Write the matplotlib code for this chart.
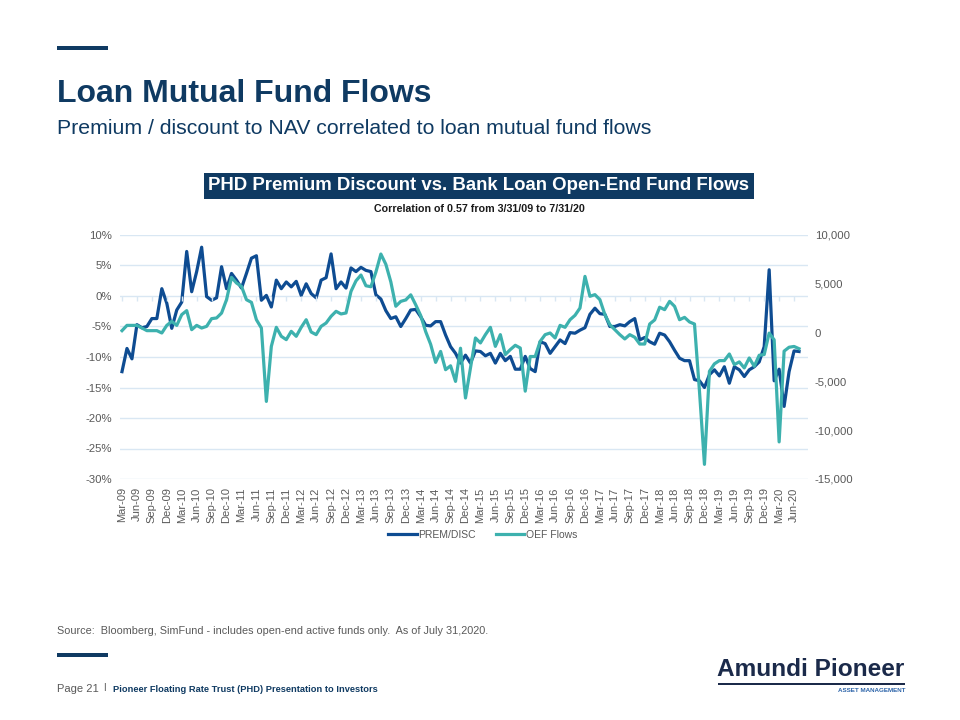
import numpy as np
import pandas as pd
import matplotlib
matplotlib.use('Agg')
from matplotlib import pyplot as plt
from matplotlib.ticker import FuncFormatter, MultipleLocator

plt.rcParams['font.family'] = ['Liberation Sans', 'DejaVu Sans']
plt.rcParams['axes.unicode_minus'] = False

# monthly data, Mar-09 .. Jul-20
months = pd.date_range('2009-03-31', '2020-07-31', freq='ME')

# PHD premium / discount to NAV (%)
prem_disc = [
    -12.4, -8.6, -10.3, -4.7, -5.2, -5.0, -3.7, -3.7, 1.2, -1.2,
    -5.3, -2.3, -1.0, 7.3, 0.7, 4.0, 8.0, -0.1, -0.7, -0.3,
    4.8, 1.2, 3.7, 2.6, 1.3, 3.7, 6.2, 6.6, -0.7, 0.1,
    -1.8, 2.6, 1.2, 2.3, 1.5, 2.4, 0.1, 2.0, 0.4, -0.3,
    2.6, 3.0, 6.9, 1.2, 2.3, 1.3, 4.6, 4.0, 4.7, 4.2,
    4.0, 0.2, -0.5, -2.4, -3.7, -3.4, -5.0, -3.7, -2.3, -2.2,
    -3.4, -4.8, -4.9, -4.2, -4.2, -6.4, -8.3, -9.4, -11.0, -9.7,
    -11.0, -9.0, -9.1, -9.8, -9.4, -11.0, -9.4, -10.6, -9.9, -12.0,
    -12.0, -9.9, -11.9, -12.4, -7.5, -7.8, -9.4, -8.3, -7.2, -7.8,
    -6.0, -6.1, -5.6, -5.2, -3.0, -2.0, -2.9, -3.0, -5.0, -5.0,
    -4.7, -4.9, -4.2, -3.7, -7.2, -6.8, -7.5, -7.9, -6.1, -6.4,
    -7.5, -8.9, -10.2, -10.6, -10.6, -13.7, -13.9, -15.0, -12.9, -12.1,
    -13.1, -11.6, -14.3, -11.6, -12.1, -13.2, -12.1, -11.6, -10.8, -8.3,
    4.3, -13.9, -12.0, -18.1, -12.4, -9.0, -9.1,
]

# bank loan open-end fund flows ($mm)
oef_flows = [
    200, 740, 740, 740, 470, 200, 200, 200, -40, 740,
    1150, 740, 1840, 2250, 300, 740, 470, 640, 1430, 1500,
    2000, 3370, 5660, 5080, 4740, 3370, 3100, 1320, 470, -7050,
    -1410, 540, -380, -720, 130, -380, 540, 1320, 60, -210,
    640, 980, 1670, 2180, 1910, 2010, 4220, 5300, 5900, 4800,
    4700, 6200, 8050, 7000, 5200, 2700, 3200, 3350, 3870, 2850,
    1750, 100, -1200, -3050, -1930, -3800, -3400, -5000, -1600, -6700,
    -3620, -550, -1060, -210, 540, -1410, -210, -2250, -1740, -1300,
    -1580, -6000, -2450, -2450, -900, -210, -40, -550, 740, 540,
    1320, 1770, 2520, 5760, 3720, 3890, 3370, 1840, 810, 300,
    -210, -650, -210, -480, -1170, -1170, 880, 1300, 2600, 2350,
    3200, 2690, 1320, 1560, 1090, 880, -6000, -13500, -3970, -3200,
    -2870, -2870, -2190, -3280, -3000, -3620, -2600, -3450, -2320, -2250,
    -50, -740, -11200, -1900, -1500, -1420, -1650,
]

navy = '#0F3A62'
blue_line = '#0E4C92'
teal_line = '#3DB1AE'
grid_col = '#D9E7F3'
label_col = '#595959'

fig = plt.figure(figsize=(9.6, 7.2), dpi=100)

# header
fig.add_artist(plt.Rectangle((57 / 960, 1 - 50 / 720), 51 / 960, 4 / 720,
                             transform=fig.transFigure, color=navy, lw=0))
fig.text(57 / 960, 1 - 94 / 720, 'Loan Mutual Fund Flows', fontsize=23,
         fontweight='bold', color=navy, va='center', ha='left')
fig.text(57 / 960, 1 - 128 / 720,
         'Premium / discount to NAV correlated to loan mutual fund flows',
         fontsize=15.3, color=navy, va='center', ha='left')

# chart titles
fig.text(479 / 960, 1 - 186 / 720,
         'PHD Premium Discount vs. Bank Loan Open-End Fund Flows',
         fontsize=13.4, fontweight='bold', color='white', ha='center', va='center',
         bbox=dict(facecolor=navy, edgecolor='none', pad=3.5))
fig.text(479 / 960, 1 - 209 / 720, 'Correlation of 0.57 from 3/31/09 to 7/31/20',
         fontsize=7.7, fontweight='bold', color='#1A1A1A', ha='center', va='center')

# main chart
x = np.arange(len(months))
ax = fig.add_axes([120 / 960, 1 - 479 / 720, 688 / 960, 244 / 720])
ax2 = ax.twinx()

l1, = ax.plot(x, prem_disc, color=blue_line, lw=2.3, label='PREM/DISC',
              solid_joinstyle='round')
l2, = ax2.plot(x, oef_flows, color=teal_line, lw=2.3, label='OEF Flows',
               solid_joinstyle='round')

ax.set_xlim(-0.4, len(months) + 0.8)
ax.set_ylim(-30, 10)
ax2.set_ylim(-15000, 10000)
ax.yaxis.set_major_locator(MultipleLocator(5))
ax2.yaxis.set_major_locator(MultipleLocator(5000))
ax.yaxis.set_major_formatter(FuncFormatter(lambda v, p: f'{v:.0f}%'))
ax2.yaxis.set_major_formatter(FuncFormatter(lambda v, p: f'{v:,.0f}'))

ax.set_axisbelow(True)
ax.yaxis.grid(True, color=grid_col, lw=1)
# category tick marks sit on the 0% line
ax.vlines(x[::3], -0.8, 0, color=grid_col, lw=1)

ax.set_xticks(x[::3])
ax.set_xticklabels(months[::3].strftime('%b-%y'), rotation=90)

for a in (ax, ax2):
    for s in a.spines.values():
        s.set_visible(False)
    a.tick_params(length=0, colors=label_col, labelsize=8.2)
ax.tick_params(axis='x', labelsize=8, pad=6)
ax.tick_params(axis='y', pad=6)
ax2.tick_params(axis='y', pad=5)

fig.legend(handles=[l1, l2], loc='center', bbox_to_anchor=(483 / 960, 1 - 535 / 720),
           ncol=2, frameon=False, fontsize=7.5, handlelength=2.7, columnspacing=1.9,
           handletextpad=0.2, labelcolor=label_col)

# footer
fig.text(57 / 960, 1 - 631 / 720,
         'Source:  Bloomberg, SimFund - includes open-end active funds only.  As of July 31,2020.',
         fontsize=7.8, color=label_col, ha='left', va='center')
fig.add_artist(plt.Rectangle((57 / 960, 1 - 657 / 720), 51 / 960, 4 / 720,
                             transform=fig.transFigure, color=navy, lw=0))
fig.text(57 / 960, 1 - 689 / 720, 'Page 21', fontsize=8, color=label_col,
         ha='left', va='center')
fig.text(103 / 960, 1 - 688 / 720, 'I', fontsize=7, color=label_col,
         ha='left', va='center')
fig.text(113 / 960, 1 - 689 / 720,
         'Pioneer Floating Rate Trust (PHD) Presentation to Investors',
         fontsize=6.7, fontweight='bold', color=navy, ha='left', va='center')

# logo
fig.text(811 / 960, 1 - 669 / 720, 'Amundi Pioneer', fontsize=17.6, fontweight='bold',
         color='#1B2A4A', ha='center', va='center')
fig.add_artist(plt.Rectangle((718 / 960, 1 - 685 / 720), 187 / 960, 2 / 720,
                             transform=fig.transFigure, color='#1B2A4A', lw=0))
fig.text(905 / 960, 1 - 690 / 720, 'ASSET MANAGEMENT', fontsize=4.5, fontweight='bold',
         color='#2A62A8', ha='right', va='center')

fig.savefig('out.png', dpi=100)
